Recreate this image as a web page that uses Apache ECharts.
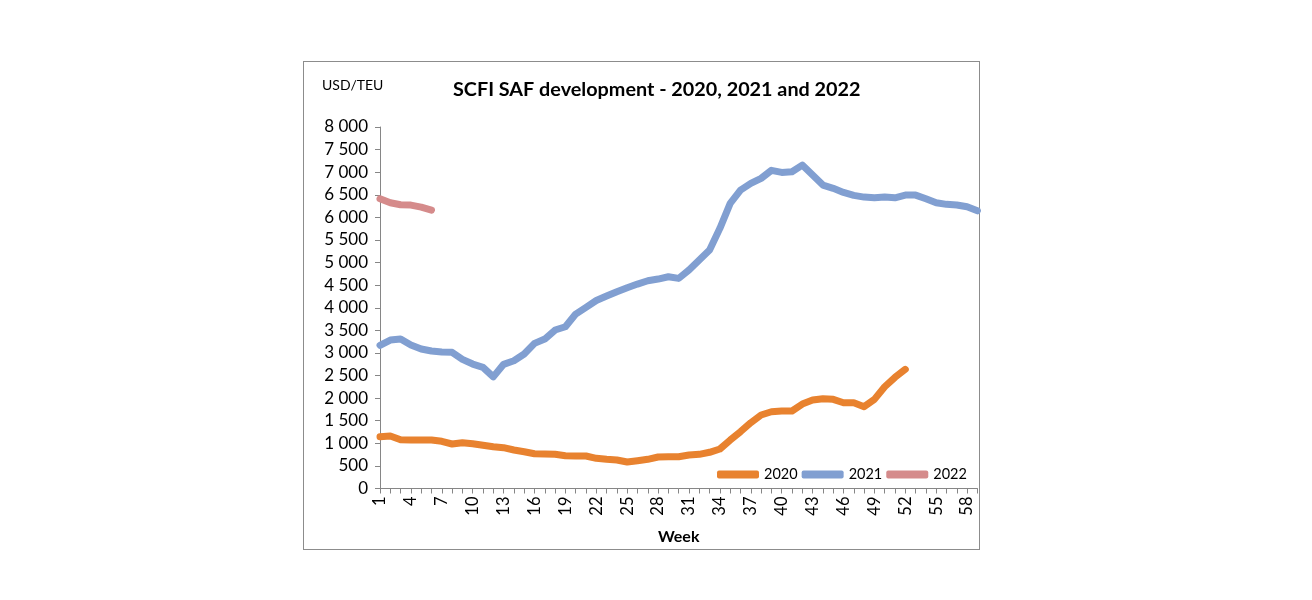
<!DOCTYPE html>
<html>
<head>
<meta charset="utf-8">
<script src="https://cdn.jsdelivr.net/npm/echarts@6/dist/echarts.min.js"></script>
<style>
html,body{margin:0;padding:0;background:#fff;}
#frame{position:absolute;left:303px;top:61px;width:677px;height:489px;border:1px solid #8c8c8c;box-sizing:border-box;}
#chart{position:absolute;left:0;top:0;width:1312px;height:600px;}
</style>
</head>
<body>
<div id="frame"></div>
<div id="chart"></div>
<script>
const weeks = Array.from({length: 59}, (_, i) => String(i + 1));
const s2020 = [1146,1161,1080,1073,1073,1073,1044,985,1013,991,956,925,903,852,814,770,763,756,726,719,719,668,646,631,586,615,646,697,704,704,741,756,801,874,1073,1257,1456,1626,1699,1715,1715,1869,1958,1987,1973,1898,1898,1810,1973,2252,2460,2637];
const s2021 = [3170,3285,3307,3175,3086,3042,3020,3013,2858,2754,2681,2470,2748,2827,2976,3212,3307,3507,3580,3860,4009,4160,4259,4354,4443,4524,4597,4635,4686,4650,4834,5055,5277,5757,6310,6604,6752,6863,7040,6995,7009,7157,6936,6714,6642,6553,6487,6449,6434,6449,6434,6493,6493,6412,6323,6288,6275,6235,6146];
const s2022 = [6410,6323,6279,6272,6228,6161];
const seriesNames = ['2020','2021','2022'];
const colors = ['#E8822F','#819FD1','#D58B8B'];

const chart = echarts.init(document.getElementById('chart'), null, {renderer:'canvas'});
const FONT = 'Lato';
chart.setOption({
  animation:false,
  backgroundColor:'transparent',
  textStyle:{fontFamily:FONT},
  title:[{
    text:'SCFI SAF development - 2020, 2021 and 2022',
    left:448, top:75,
    textStyle:{fontFamily:FONT,fontSize:19.8,fontWeight:'bold',color:'#000'}
  },{
    text:'USD/TEU', left:317, top:73,
    textStyle:{fontFamily:FONT,fontSize:14,fontWeight:'normal',color:'#000'}
  }],
  legend:{
    left:712, top:462, itemWidth:42, itemHeight:8, itemGap:4,
    icon:'roundRect',
    textStyle:{fontFamily:FONT,fontSize:14.5,color:'#000'},
    data:seriesNames
  },
  grid:{left:380, top:127, right:1312-977.4, bottom:600-488.5, containLabel:false},
  xAxis:{
    type:'category', data:weeks, boundaryGap:false,
    name:'Week', nameLocation:'middle', nameGap:40,
    nameTextStyle:{fontFamily:FONT,fontSize:16,fontWeight:'bold',color:'#000'},
    axisLine:{lineStyle:{color:'#868686',width:1}},
    axisTick:{show:true, interval:0, length:5, lineStyle:{color:'#868686'}},
    axisLabel:{interval:2, rotate:90, fontFamily:FONT, fontSize:16.5, color:'#000', margin:8},
    splitLine:{show:false}
  },
  yAxis:{
    type:'value', min:0, max:8000, interval:500,
    axisLine:{show:true, lineStyle:{color:'#868686',width:1}},
    axisTick:{show:true, length:5, lineStyle:{color:'#868686'}},
    axisLabel:{fontFamily:FONT, fontSize:17, color:'#000', margin:12,
      formatter:v => String(v).replace(/\B(?=(\d{3})+(?!\d))/g,' ')},
    splitLine:{show:false}
  },
  series:[
    {name:'2020', type:'line', data:s2020, symbol:'none', color:colors[0],
     lineStyle:{width:7, color:colors[0], cap:'round', join:'round'}},
    {name:'2021', type:'line', data:s2021, symbol:'none', color:colors[1],
     lineStyle:{width:7, color:colors[1], cap:'round', join:'round'}},
    {name:'2022', type:'line', data:s2022, symbol:'none', color:colors[2],
     lineStyle:{width:7, color:colors[2], cap:'round', join:'round'}}
  ]
});
</script>
</body>
</html>
